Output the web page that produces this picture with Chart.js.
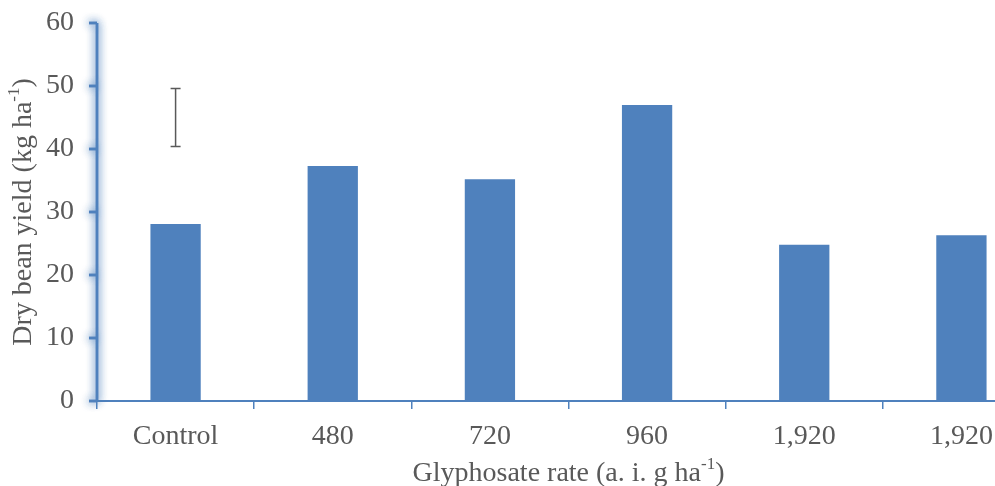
<!DOCTYPE html>
<html>
<head>
<meta charset="utf-8">
<script src="https://cdn.jsdelivr.net/npm/chart.js@4.4.1/dist/chart.umd.min.js"></script>
<style>
  html, body { margin: 0; padding: 0; background: #fff; overflow: hidden; }
  #wrap { width: 1045px; height: 486px; position: relative; }
</style>
</head>
<body>
<div id="wrap"><canvas id="chart"></canvas></div>
<script>
// data
var categories = ['Control', '480', '720', '960', '1,920', '1,920'];
var yields = [28.1, 37.3, 35.2, 47.0, 24.8, 26.3];
var lsdBar = [40.4, 49.6];   // bottom and top of the LSD bar
var yTicks = [0, 10, 20, 30, 40, 50, 60];

var blue = '#4F81BD';
var grey = '#595959';
var serif = '"Liberation Serif", "Times New Roman", serif';
var fs = 28;

// y axis line drawn with a soft glow, like the original
var glowAxis = {
    id: 'glowAxis',
    afterDraw: function(chart){
        var ctx = chart.ctx;
        var y = chart.scales.y;
        var x0 = chart.chartArea.left;
        ctx.save();
        ctx.strokeStyle = blue;
        ctx.lineWidth = 2.5;
        ctx.shadowColor = 'rgba(79,129,189,0.9)';
        ctx.shadowBlur = 9;
        for (var i = 0; i < 2; i++){
            ctx.beginPath();
            ctx.moveTo(x0, y.getPixelForValue(60));
            ctx.lineTo(x0, y.getPixelForValue(0));
            yTicks.forEach(function(t){
                var py = y.getPixelForValue(t);
                ctx.moveTo(x0 - 8, py);
                ctx.lineTo(x0, py);
            });
            ctx.stroke();
        }
        ctx.restore();
    }
};

// LSD bar over the control column
var lsdPlugin = {
    id: 'lsd',
    afterDatasetsDraw: function(chart){
        var ctx = chart.ctx;
        var px = chart.scales.x.getPixelForValue(0);
        var yb = chart.scales.y.getPixelForValue(lsdBar[0]);
        var yt = chart.scales.y.getPixelForValue(lsdBar[1]);
        ctx.save();
        ctx.strokeStyle = grey;
        ctx.lineWidth = 1.5;
        ctx.beginPath();
        ctx.moveTo(px, yb); ctx.lineTo(px, yt);
        ctx.moveTo(px - 5, yb); ctx.lineTo(px + 5, yb);
        ctx.moveTo(px - 5, yt); ctx.lineTo(px + 5, yt);
        ctx.stroke();
        ctx.restore();
    }
};

// axis titles with a real superscript
function drawSup(ctx, before, sup, after, cx, cy){
    var big = fs + 'px ' + serif, small = Math.round(fs * 0.6) + 'px ' + serif;
    ctx.font = big;
    var w1 = ctx.measureText(before).width;
    var w3 = ctx.measureText(after).width;
    ctx.font = small;
    var w2 = ctx.measureText(sup).width;
    var x = cx - (w1 + w2 + w3) / 2;
    ctx.textAlign = 'left';
    ctx.textBaseline = 'alphabetic';
    ctx.font = big;
    ctx.fillText(before, x, cy);
    ctx.font = small;
    ctx.fillText(sup, x + w1, cy - fs * 0.42);
    ctx.font = big;
    ctx.fillText(after, x + w1 + w2, cy);
}

var titles = {
    id: 'titles',
    afterDraw: function(chart){
        var ctx = chart.ctx;
        var area = chart.chartArea;
        ctx.save();
        ctx.fillStyle = grey;
        drawSup(ctx, 'Glyphosate rate (a. i. g ha', '-1', ')', (area.left + area.right) / 2, 481);
        ctx.translate(31, (area.top + area.bottom) / 2);
        ctx.rotate(-Math.PI / 2);
        drawSup(ctx, 'Dry bean yield (kg ha', '-1', ')', 0, 0);
        ctx.restore();
    }
};

new Chart(document.getElementById('chart'), {
    type: 'bar',
    data: {
        labels: categories,
        datasets: [{
            data: yields,
            backgroundColor: blue,
            borderWidth: 0,
            barPercentage: 0.64,
            categoryPercentage: 0.5
        }]
    },
    options: {
        responsive: true,
        maintainAspectRatio: false,
        animation: false,
        layout: { padding: { top: 23, right: 5, left: 0, bottom: 0 } },
        plugins: { legend: { display: false }, tooltip: { enabled: false } },
        scales: {
            x: {
                grid: { offset: true, drawOnChartArea: false, drawTicks: true, tickLength: 8, color: blue, lineWidth: 1.5 },
                border: { color: blue, width: 2 },
                ticks: { color: grey, padding: 11, font: { family: serif, size: fs }, maxRotation: 0, autoSkip: false },
                afterFit: function(s){ s.height = 85; s.paddingLeft = 0; s.paddingRight = 0; }
            },
            y: {
                min: 0, max: 60,
                grid: { display: false },
                border: { display: false },
                ticks: { stepSize: 10, color: grey, padding: 15, font: { family: serif, size: fs } },
                afterFit: function(s){ s.width = 97; s.paddingTop = 0; s.paddingBottom = 0; }
            }
        }
    },
    plugins: [glowAxis, lsdPlugin, titles]
});
</script>
</body>
</html>
